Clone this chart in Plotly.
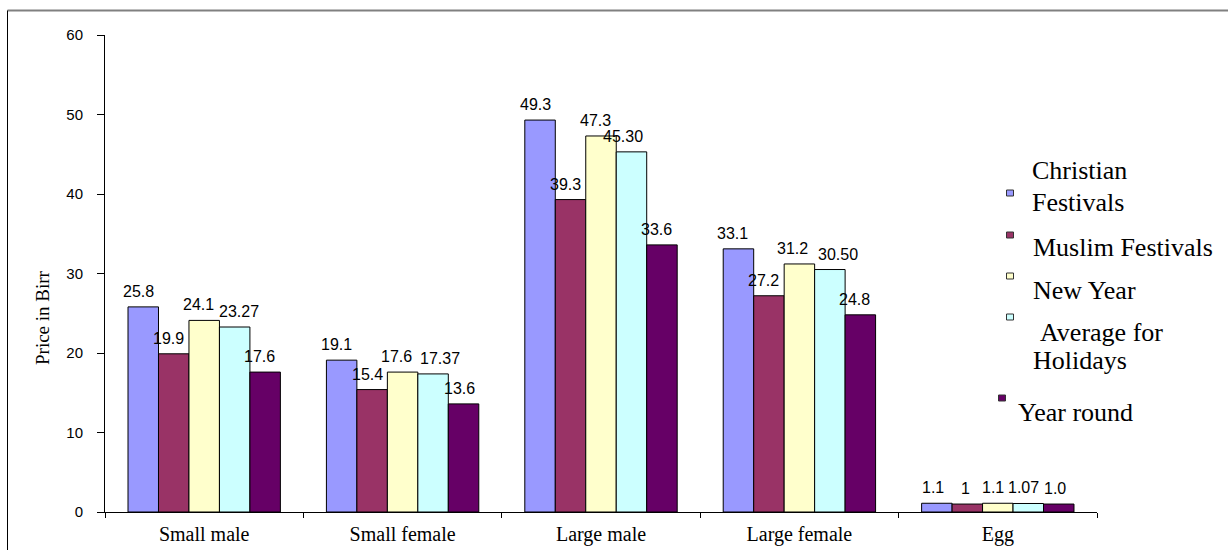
import plotly.graph_objects as go

# Average prices (Birr) by chicken type and season
categories = ["Small male", "Small female", "Large male", "Large female", "Egg"]
series_names = ["Christian\nFestivals", "Muslim Festivals", "New Year",
                "Average for\nHolidays", "Year round"]
christian_labels = ["25.8", "19.1", "49.3", "33.1", "1.1"]
muslim_labels = ["19.9", "15.4", "39.3", "27.2", "1"]
new_year_labels = ["24.1", "17.6", "47.3", "31.2", "1.1"]
average_labels = ["23.27", "17.37", "45.30", "30.50", "1.07"]
year_round_labels = ["17.6", "13.6", "33.6", "24.8", "1.0"]
y_ticks = [0, 10, 20, 30, 40, 50, 60]

label_sets = [christian_labels, muslim_labels, new_year_labels,
              average_labels, year_round_labels]
colors = ["#9999FF", "#993366", "#FFFFCC", "#CCFFFF", "#660066"]

# horizontal nudges (px) of the value labels, per series / category
label_nudge = [
    [-5, -5, -5, -6, -4],
    [-5, -5, -5, -5, -2],
    [-6, -6, -6, -7, -5],
    [4, 7, -8, 8, -5],
    [-6, -4, -5, -6, -4],
]

W, H = 1228, 550
ML, MR, MT, MB = 105, 131, 35, 38
PW, PH = W - ML - MR, H - MT - MB
BARGAP = 0.232


def px_x(x):
    return (x - ML) / PW


def px_y(y):
    return (H - MB - y) / PH


SERIF = "Liberation Serif, Times New Roman, serif"
SANS = "Liberation Sans, Arial, sans-serif"

fig = go.Figure()
for name, labels, color in zip(series_names, label_sets, colors):
    fig.add_trace(go.Bar(
        x=categories,
        y=[float(s) for s in labels],
        name=name.replace("\n", " "),
        marker=dict(color=color, line=dict(color="#000000", width=1)),
        showlegend=False,
    ))

# value labels above each bar
n = len(label_sets)
bar_w = (1 - BARGAP) / n
annotations = []
for i, labels in enumerate(label_sets):
    for j, s in enumerate(labels):
        annotations.append(dict(
            x=j + (i - (n - 1) / 2) * bar_w, y=float(s), xref="x", yref="y",
            text=s, showarrow=False, yanchor="bottom", xanchor="center",
            xshift=label_nudge[i][j], yshift=5,
            font=dict(family=SANS, size=16, color="#000000"),
        ))

# y-axis title
annotations.append(dict(
    x=px_x(42), y=px_y(318), xref="paper", yref="paper",
    text="Price in Birr", textangle=-90, showarrow=False,
    xanchor="center", yanchor="middle",
    font=dict(family=SERIF, size=19, color="#000000"),
))

# legend: text lines and swatches
legend_lines = [
    [(1030, 170), (1030, 202)],
    [(1031, 247)],
    [(1031, 290)],
    [(1038, 332), (1031, 361)],
    [(1016, 412)],
]
legend_swatches = [(1010, 193), (1010, 235), (1010, 276), (1010, 317), (1002, 398)]
shapes = []
for name, lines, (sx, sy), color in zip(series_names, legend_lines,
                                        legend_swatches, colors):
    for txt, (lx, ly) in zip(name.split("\n"), lines):
        annotations.append(dict(
            x=px_x(lx), y=px_y(ly), xref="paper", yref="paper", text=txt,
            showarrow=False, xanchor="left", yanchor="middle",
            font=dict(family=SERIF, size=26, color="#000000"),
        ))
    shapes.append(dict(
        type="rect", xref="paper", yref="paper",
        x0=px_x(sx - 3.5), x1=px_x(sx + 3.5), y0=px_y(sy + 3), y1=px_y(sy - 3),
        fillcolor=color, line=dict(color="#333333", width=1),
    ))

# outer frame
shapes.append(dict(type="line", xref="paper", yref="paper",
                   x0=px_x(7.5), x1=px_x(1240), y0=px_y(10.5), y1=px_y(10.5),
                   line=dict(color="#808080", width=2)))
shapes.append(dict(type="line", xref="paper", yref="paper",
                   x0=px_x(7.5), x1=px_x(7.5), y0=px_y(10.5), y1=px_y(560),
                   line=dict(color="#000000", width=1)))

fig.update_layout(
    width=W, height=H, autosize=False,
    margin=dict(l=ML, r=MR, t=MT, b=MB, pad=0, autoexpand=False),
    plot_bgcolor="#FFFFFF", paper_bgcolor="#FFFFFF",
    barmode="group", bargap=BARGAP, bargroupgap=0,
    annotations=annotations, shapes=shapes,
    xaxis=dict(
        type="category", range=[-0.5, len(categories) - 0.5],
        automargin=False,
        showline=True, linecolor="#000000", linewidth=1,
        ticks="outside", tickson="boundaries", ticklen=5,
        tickcolor="#000000", showgrid=False, zeroline=False,
        tickfont=dict(family=SERIF, size=20, color="#000000"),
        ticklabelstandoff=4,
    ),
    yaxis=dict(
        range=[0, 60], tickvals=y_ticks, automargin=False,
        showline=True, linecolor="#000000", linewidth=1,
        ticks="outside", ticklen=7, tickcolor="#000000",
        showgrid=False, zeroline=False,
        tickfont=dict(family=SANS, size=15, color="#000000"),
        ticklabelstandoff=11,
    ),
)

fig.write_html("out.html")
